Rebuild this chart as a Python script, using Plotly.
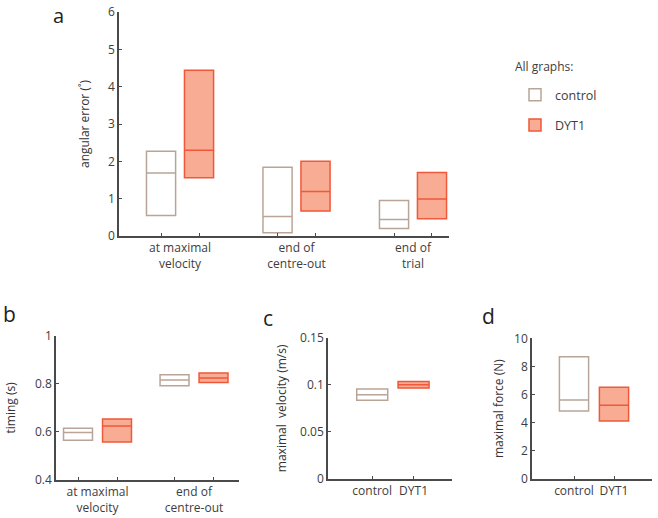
import plotly.graph_objects as go

# ---------------- data ----------------
phases_a = ["at maximal<br>velocity", "end of<br>centre-out", "end of<br>trial"]
ang_ctrl_q1 = [0.55, 0.09, 0.20]
ang_ctrl_med = [1.69, 0.52, 0.44]
ang_ctrl_q3 = [2.27, 1.84, 0.95]
ang_dyt_q1 = [1.56, 0.67, 0.46]
ang_dyt_med = [2.30, 1.19, 0.99]
ang_dyt_q3 = [4.44, 2.00, 1.70]

phases_b = ["at maximal<br>velocity", "end of<br>centre-out"]
tim_ctrl_q1 = [0.565, 0.792]
tim_ctrl_med = [0.598, 0.816]
tim_ctrl_q3 = [0.615, 0.838]
tim_dyt_q1 = [0.558, 0.805]
tim_dyt_med = [0.625, 0.824]
tim_dyt_q3 = [0.654, 0.845]

groups = ["control", "DYT1"]
vel_q1 = [0.0835, 0.0965]
vel_med = [0.0895, 0.1000]
vel_q3 = [0.0955, 0.1035]

force_q1 = [4.83, 4.12]
force_med = [5.61, 5.24]
force_q3 = [8.69, 6.52]

yticks_a = [0, 1, 2, 3, 4, 5, 6]
yticks_b = [0.4, 0.6, 0.8, 1]
yticks_c = [0, 0.05, 0.1, 0.15]
yticks_d = [0, 2, 4, 6, 8, 10]

# ---------------- style ----------------
W, H = 658, 518
CTRL_LINE = "#b9a597"
CTRL_FILL = "rgba(255,255,255,0)"
DYT_LINE = "#f0583a"
DYT_FILL = "#f8ac93"
AX = "#4a4a4a"
TXT = "#3d3d3d"
FONT = "Open Sans"


def px_x(a, b):
    return [a / W, b / W]


def px_y(top, bottom):
    return [(H - bottom) / H, (H - top) / H]


fig = go.Figure()


def add_box(x, q1, med, q3, name, line, fill, xa, ya, width, show):
    fig.add_trace(go.Box(
        x=x, q1=q1, median=med, q3=q3, lowerfence=q1, upperfence=q3,
        name=name, legendgroup=name, showlegend=show,
        line=dict(color=line, width=1.5), fillcolor=fill,
        width=width, boxpoints=False, whiskerwidth=0,
        xaxis=xa, yaxis=ya, hoverinfo="skip",
    ))


# panel a (numeric positions from category index)
off_a, bw_a = 0.163, 0.25
idx_a = list(range(len(phases_a)))
add_box([i - off_a for i in idx_a], ang_ctrl_q1, ang_ctrl_med, ang_ctrl_q3,
        "control", CTRL_LINE, CTRL_FILL, "x", "y", bw_a, True)
add_box([i + off_a for i in idx_a], ang_dyt_q1, ang_dyt_med, ang_dyt_q3,
        "DYT1", DYT_LINE, DYT_FILL, "x", "y", bw_a, True)

# panel b
off_b, bw_b = 0.202, 0.30
idx_b = list(range(len(phases_b)))
add_box([i - off_b for i in idx_b], tim_ctrl_q1, tim_ctrl_med, tim_ctrl_q3,
        "control", CTRL_LINE, CTRL_FILL, "x2", "y2", bw_b, False)
add_box([i + off_b for i in idx_b], tim_dyt_q1, tim_dyt_med, tim_dyt_q3,
        "DYT1", DYT_LINE, DYT_FILL, "x2", "y2", bw_b, False)

# panel c
add_box([groups[0]], [vel_q1[0]], [vel_med[0]], [vel_q3[0]],
        "control", CTRL_LINE, CTRL_FILL, "x3", "y3", 0.75, False)
add_box([groups[1]], [vel_q1[1]], [vel_med[1]], [vel_q3[1]],
        "DYT1", DYT_LINE, DYT_FILL, "x3", "y3", 0.75, False)

# panel d
add_box([groups[0]], [force_q1[0]], [force_med[0]], [force_q3[0]],
        "control", CTRL_LINE, CTRL_FILL, "x4", "y4", 0.73, False)
add_box([groups[1]], [force_q1[1]], [force_med[1]], [force_q3[1]],
        "DYT1", DYT_LINE, DYT_FILL, "x4", "y4", 0.73, False)

tickfont = dict(family=FONT, size=12, color=TXT)
titlefont = dict(family=FONT, size=12, color="#333333")


def xaxis(domain, rng, **kw):
    d = dict(domain=domain, range=rng, showline=True, linecolor=AX, linewidth=1.5,
             showgrid=False, zeroline=False, tickfont=tickfont, fixedrange=True,
             automargin=False)
    d.update(kw)
    return d


def yaxis(domain, rng, tickvals, title, standoff, anchor):
    return dict(domain=domain, range=rng, showline=True, linecolor=AX, linewidth=1.5,
                showgrid=False, zeroline=False, tickvals=tickvals, ticks="inside",
                ticklen=3, tickcolor=AX, tickfont=tickfont, anchor=anchor,
                automargin=False, fixedrange=True,
                title=dict(text=title, font=titlefont, standoff=standoff))


fig.update_layout(
    width=W, height=H, margin=dict(l=0, r=0, t=0, b=0, pad=0, autoexpand=False),
    paper_bgcolor="white", plot_bgcolor="white",
    boxmode="overlay",
    font=dict(family=FONT, color=TXT),
    xaxis=xaxis(px_x(119, 449), [-0.524, 2.309], anchor="y",
                tickvals=idx_a, ticktext=phases_a, ticks="",
                minor=dict(tickvals=[i - off_a for i in idx_a] + [i + off_a for i in idx_a],
                           ticks="inside", ticklen=3, tickcolor=AX)),
    yaxis=yaxis(px_y(12, 236), [0, 6], yticks_a, "angular error (˚)", 16, "x"),
    xaxis2=xaxis(px_x(56, 239), [-0.43, 1.466], anchor="y2",
                 tickvals=idx_b, ticktext=phases_b, ticks="",
                 minor=dict(tickvals=[i - off_b for i in idx_b] + [i + off_b for i in idx_b],
                            ticks="inside", ticklen=3, tickcolor=AX)),
    yaxis2=yaxis(px_y(335.7, 480), [0.4, 1], yticks_b, "timing (s)", 17, "x2"),
    xaxis3=xaxis(px_x(328, 452), [-1.07, 1.93], anchor="y3", type="category",
                 categoryorder="array", categoryarray=groups,
                 ticks="inside", ticklen=3, tickcolor=AX),
    yaxis3=yaxis(px_y(337.7, 479), [0, 0.15], yticks_c, "maximal  velocity (m/s)", 11, "x3"),
    xaxis4=xaxis(px_x(532, 652), [-1.05, 1.95], anchor="y4", type="category",
                 categoryorder="array", categoryarray=groups,
                 ticks="inside", ticklen=3, tickcolor=AX),
    yaxis4=yaxis(px_y(338.3, 479), [0, 10], yticks_d, "maximal force (N)", 8, "x4"),
    showlegend=True,
    legend=dict(x=515 / W, y=(H - 80) / H, xanchor="left", yanchor="top",
                font=dict(family=FONT, size=12.5, color=TXT),
                bgcolor="rgba(0,0,0,0)", tracegroupgap=11, itemwidth=30),
)

fig.add_annotation(text="All graphs:", x=513 / W, y=(H - 67) / H, xref="paper", yref="paper",
                   xanchor="left", yanchor="middle", showarrow=False,
                   font=dict(family=FONT, size=12, color=TXT))

letters = [("a", 51, 0, 20), ("b", 1, 298, 21), ("c", 261, 302, 21), ("d", 480, 300, 21)]
for t, lx, ly, fs in letters:
    fig.add_annotation(text=t, x=lx / W, y=(H - ly) / H, xref="paper", yref="paper",
                       xanchor="left", yanchor="top", showarrow=False,
                       font=dict(family=FONT, size=fs, color="#222222"))

fig.write_html("out.html", config={"displayModeBar": False},
               post_script="document.body.style.margin='0';document.body.style.padding='0';")
